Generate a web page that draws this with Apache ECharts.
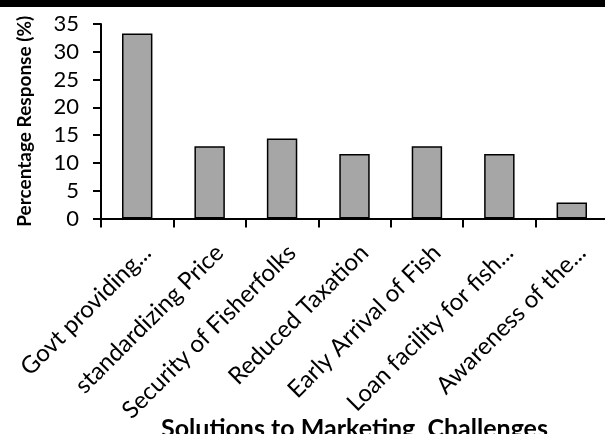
<!DOCTYPE html>
<html><head><meta charset="utf-8">
<script src="https://cdn.jsdelivr.net/npm/echarts@6/dist/echarts.min.js"></script>
<style>html,body{margin:0;padding:0;background:#fff}#c{width:605px;height:434px}</style>
</head><body><div id="c"></div>
<script>
var categories = ["Govt providing...", "standardizing Price", "Security of Fisherfolks", "Reduced Taxation", "Early Arrival of Fish", "Loan facility for fish...", "Awareness of the..."];
var values = [33.3, 13.0, 14.4, 11.6, 13.0, 11.6, 2.9];
var yTicks = [0, 5, 10, 15, 20, 25, 30, 35];
var xTitle = "Solutions to Marketing  Challenges";
var yTitle = "Percentage Response (%)";
var F = "Lato, 'Open Sans', sans-serif";
var chart = echarts.init(document.getElementById('c'));
chart.setOption({
  animation: false,
  graphic: [
    {type:'rect', shape:{x:0,y:0,width:605,height:7}, style:{fill:'#000'}},
    {type:'text', x:354.5, y:429, style:{text:xTitle, fill:'#000', font:'bold 25px ' + F,
      textAlign:'center', textVerticalAlign:'middle'}}
  ],
  grid: {left:101, top:24, width:507, bottom:215.5, containLabel:false, outerBoundsMode:'none'},
  xAxis: {
    type:'category', data: categories,
    axisLine:{lineStyle:{color:'#000', width:2}},
    axisTick:{show:true, length:9, lineStyle:{color:'#000', width:2}},
    axisLabel:{rotate:45, color:'#000', fontSize:24, fontFamily:F, margin:12, interval:0,
               verticalAlign:'top', padding:[8, 6, 0, 0]}
  },
  yAxis: {
    type:'value', min:yTicks[0], max:yTicks[yTicks.length-1], interval:5,
    axisLine:{show:true, lineStyle:{color:'#000', width:2}},
    axisTick:{show:true, length:8, lineStyle:{color:'#000', width:2}},
    axisLabel:{color:'#000', fontSize:22, fontFamily:F, margin:22},
    splitLine:{show:false},
    name: yTitle, nameLocation:'middle', nameGap:67,
    nameTextStyle:{fontSize:19, fontWeight:'bold', color:'#000', fontFamily:F}
  },
  series: [{
    type:'bar', data: values, barWidth:'42%',
    itemStyle:{color:'#a6a6a6', borderColor:'#000', borderWidth:1.5}
  }]
});
</script></body></html>
